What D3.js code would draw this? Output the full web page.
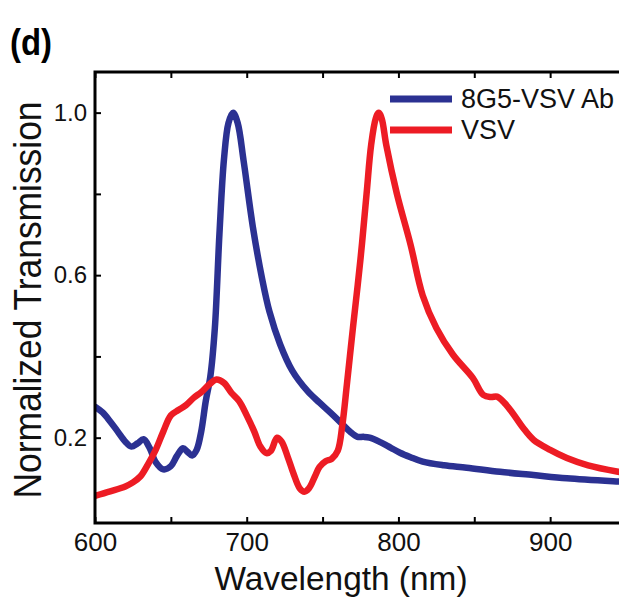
<!DOCTYPE html>
<html>
<head>
<meta charset="utf-8">
<script src="https://cdn.jsdelivr.net/npm/d3@7"></script>
<style>
	body { margin: 0; background: #fff; }
	svg { display: block; font-family: "Liberation Sans", Arial, sans-serif; }
	.axis path { display: none; }
	.axis line { stroke: #000; stroke-width: 2; }
</style>
</head>
<body>
<div id="container"></div>
<script>
	// 8G5-VSV Ab (blue)
	const abWavelength = [600, 605, 610, 615, 620, 624, 628, 632, 636, 640, 645, 650, 654, 658, 661, 664, 667, 670, 673, 676, 679, 682, 685, 688, 691, 694, 698, 704, 710, 715, 722, 730, 740, 748, 755, 762, 768, 773, 777, 781, 788, 795, 801, 808, 816, 830, 845, 867, 889, 911, 945, 950];
	const abTransmission = [0.276, 0.262, 0.240, 0.215, 0.190, 0.178, 0.186, 0.196, 0.175, 0.140, 0.122, 0.130, 0.155, 0.174, 0.165, 0.156, 0.170, 0.215, 0.290, 0.350, 0.470, 0.700, 0.885, 0.975, 1.000, 0.975, 0.880, 0.720, 0.594, 0.510, 0.430, 0.365, 0.315, 0.286, 0.262, 0.237, 0.215, 0.202, 0.202, 0.200, 0.189, 0.175, 0.163, 0.152, 0.141, 0.132, 0.126, 0.116, 0.108, 0.100, 0.092, 0.091];

	// VSV (red)
	const vsvWavelength = [600, 610, 620, 625, 630, 635, 640, 645, 650, 655, 660, 665, 670, 675, 680, 685, 690, 695, 700, 705, 709, 713, 716, 720, 723, 727, 731, 735, 738, 741, 745, 748, 752, 756, 760, 763, 766, 768, 770, 775, 779, 782, 785, 787, 789, 792, 799, 808, 816, 825, 836, 849, 856, 861, 865, 870, 875, 882, 889, 900, 911, 925, 945, 950];
	const vsvTransmission = [0.057, 0.068, 0.080, 0.090, 0.105, 0.135, 0.170, 0.215, 0.255, 0.268, 0.280, 0.298, 0.312, 0.330, 0.343, 0.335, 0.310, 0.290, 0.255, 0.215, 0.178, 0.162, 0.168, 0.200, 0.190, 0.153, 0.110, 0.075, 0.067, 0.075, 0.105, 0.128, 0.142, 0.148, 0.168, 0.230, 0.330, 0.400, 0.470, 0.640, 0.800, 0.920, 0.985, 1.000, 0.985, 0.920, 0.800, 0.675, 0.550, 0.470, 0.404, 0.347, 0.305, 0.300, 0.301, 0.285, 0.262, 0.225, 0.195, 0.170, 0.150, 0.132, 0.116, 0.113];

	const seriesNames = ["8G5-VSV Ab", "VSV"];
	const seriesColors = ["#2b3192", "#ed1c24"];

	const xTicks = [600, 650, 700, 750, 800, 850, 900, 950];
	const xTickLabels = [600, 700, 800, 900];
	const yTicks = [0.2, 0.4, 0.6, 0.8, 1.0];
	const yTickLabels = [0.2, 0.6, 1.0];

	const width = 619;
	const height = 601;

	const svg = d3.select("#container")
		.append("svg")
			.attr("width", width)
			.attr("height", height);

	const scaleX = d3.scaleLinear()
		.domain([600, 950])
		.range([95, 626]);

	const scaleY = d3.scaleLinear()
		.domain([-0.01, 1.1])
		.range([523, 72]);

	const series = [
		{ name: seriesNames[0], color: seriesColors[0], points: abWavelength.map((w, i) => [w, abTransmission[i]]) },
		{ name: seriesNames[1], color: seriesColors[1], points: vsvWavelength.map((w, i) => [w, vsvTransmission[i]]) }
	];

	const lineBuilder = d3.line()
		.x((d) => scaleX(d[0]))
		.y((d) => scaleY(d[1]))
		.curve(d3.curveCatmullRom.alpha(0.5));

	svg.append("defs")
		.append("clipPath")
			.attr("id", "plot")
		.append("rect")
			.attr("x", scaleX(600))
			.attr("y", scaleY(1.1))
			.attr("width", scaleX(950) - scaleX(600))
			.attr("height", scaleY(-0.01) - scaleY(1.1));

	// curves: blue first, red on top
	svg.append("g")
		.attr("clip-path", "url(#plot)")
		.selectAll(".series")
		.data(series)
			.enter()
		.append("path")
			.attr("class", "series")
			.attr("d", (d) => lineBuilder(d.points))
			.style("fill", "none")
			.style("stroke", (d) => d.color)
			.style("stroke-width", 6.5)
			.style("stroke-linejoin", "round")
			.style("stroke-linecap", "round");

	// axes, ticks pointing inwards
	svg.append("g")
		.attr("class", "axis")
		.attr("transform", `translate(0, ${scaleY(-0.01)})`)
		.call(d3.axisBottom(scaleX)
			.tickValues(xTicks)
			.tickSize(-6)
			.tickPadding(10)
			.tickFormat((d) => xTickLabels.includes(d) ? d : ""))
		.selectAll("text")
			.style("font-size", "26px")
			.style("fill", "#111");

	svg.append("g")
		.attr("class", "axis")
		.attr("transform", `translate(0, ${scaleY(1.1)})`)
		.call(d3.axisTop(scaleX)
			.tickValues(xTicks)
			.tickSize(-6)
			.tickFormat(""));

	svg.append("g")
		.attr("class", "axis")
		.attr("transform", `translate(${scaleX(600)}, 0)`)
		.call(d3.axisLeft(scaleY)
			.tickValues(yTicks)
			.tickSize(-6)
			.tickPadding(8)
			.tickFormat((d) => yTickLabels.includes(d) ? d3.format(".1f")(d) : ""))
		.selectAll("text")
			.style("font-size", "24px")
			.style("fill", "#111");

	// frame
	svg.append("rect")
		.attr("x", scaleX(600))
		.attr("y", scaleY(1.1))
		.attr("width", scaleX(950) - scaleX(600))
		.attr("height", scaleY(-0.01) - scaleY(1.1))
		.style("fill", "none")
		.style("stroke", "#000")
		.style("stroke-width", 3);

	// legend
	const legend = svg.append("g")
		.selectAll(".legend")
		.data(series)
			.enter()
		.append("g")
			.attr("class", "legend")
			.attr("transform", (d, i) => `translate(390, ${99 + i * 31})`);

	legend.append("line")
		.attr("x1", 0)
		.attr("x2", 62)
		.style("stroke", (d) => d.color)
		.style("stroke-width", 7);

	legend.append("text")
		.attr("x", 71)
		.attr("y", 9)
		.style("font-size", "27px")
		.style("fill", "#111")
		.text((d) => d.name);

	// axis titles
	svg.append("text")
		.attr("x", 341)
		.attr("y", 590)
		.attr("text-anchor", "middle")
		.attr("textLength", 253)
		.attr("lengthAdjust", "spacingAndGlyphs")
		.style("font-size", "34px")
		.style("fill", "#111")
		.text("Wavelength (nm)");

	svg.append("text")
		.attr("transform", "translate(41, 300) rotate(-90)")
		.attr("text-anchor", "middle")
		.attr("textLength", 397)
		.attr("lengthAdjust", "spacingAndGlyphs")
		.style("font-size", "38px")
		.style("fill", "#111")
		.text("Normalized Transmission");

	svg.append("text")
		.attr("x", 10)
		.attr("y", 55)
		.attr("textLength", 42)
		.attr("lengthAdjust", "spacingAndGlyphs")
		.style("font-size", "37px")
		.style("font-weight", "bold")
		.style("fill", "#000")
		.text("(d)");
</script>
</body>
</html>
